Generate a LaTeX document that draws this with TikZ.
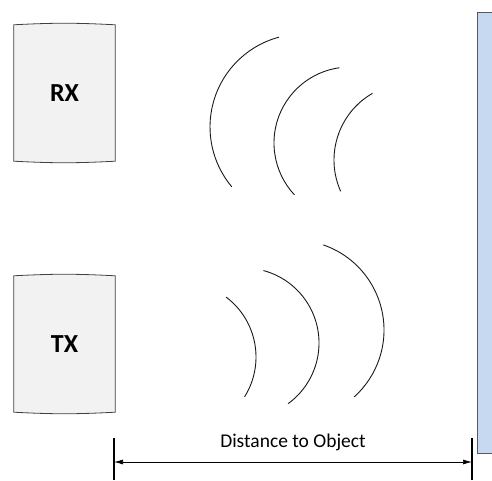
\documentclass[tikz,border=0pt]{standalone}
\usepackage{fontspec}
\setmainfont{Carlito}
\usetikzlibrary{backgrounds, arrows.meta, positioning}
\definecolor{boxgray}{HTML}{F2F2F2}
\definecolor{wallblue}{HTML}{C6D9F1}
\tikzset{
  unit/.style = {minimum width=101pt, minimum height=136pt, inner sep=0pt,
    font=\fontsize{26}{28}\selectfont\bfseries},
  shell/.style = {draw=black!75, fill=boxgray, line width=0.8pt},
  wall/.style = {draw=black!65, fill=wallblue, line width=0.8pt,
    minimum width=23pt, minimum height=441pt, inner sep=0pt},
  wave/.style = {draw=black!90, line width=0.9pt},
  tick/.style = {draw=black, line width=1.4pt},
  dim/.style = {{Latex[length=9pt,width=5pt]}-{Latex[length=9pt,width=5pt]},
    line width=0.7pt},
  lbl/.style = {font=\fontsize{19.5}{21}\selectfont}
}

\begin{document}
\begin{tikzpicture}[x=1pt, y=1pt]
  \useasboundingbox (0,0) rectangle (492,480);
  \clip (0,0) rectangle (492,480);

  % receiver and transmitter
  \node [unit] (rx) at (64.5,387) {RX};
  \node [unit] (tx) at (64.5,136) {TX};
  \begin{scope}[on background layer]
    \foreach \u in {rx,tx}
      \filldraw [shell] (\u.north west) to[bend left=3] (\u.north east)
        -- (\u.south east) to[bend left=3] (\u.south west) -- cycle;
  \end{scope}

  % object
  \node [wall] (obj) at (488.5,247.5) {};

  % echo coming back
  \draw [wave] (303,353) ++(105:93) arc[start angle=105, end angle=220, radius=93];
  \draw [wave] (350,337) ++(98:76) arc[start angle=98, end angle=223, radius=76];
  \draw [wave] (411,320) ++(120:77) arc[start angle=120, end angle=204, radius=77];

  % outgoing wave
  \draw [wave] (181,123) ++(53:75) arc[start angle=53, end angle=-32, radius=75];
  \draw [wave] (244,137) ++(75:75) arc[start angle=75, end angle=-54, radius=75];
  \draw [wave] (294,150) ++(71:90) arc[start angle=71, end angle=-48, radius=90];

  % distance
  \coordinate (dl) at (114,18);
  \coordinate (dr) at (472,18);
  \draw [tick] (114,0) -- (114,42);
  \draw [tick] (472,0) -- (472,42);
  \draw [dim] (dl) -- (dr);
  \node [lbl] (dist) at (293,38) {Distance to Object};
\end{tikzpicture}
\end{document}
